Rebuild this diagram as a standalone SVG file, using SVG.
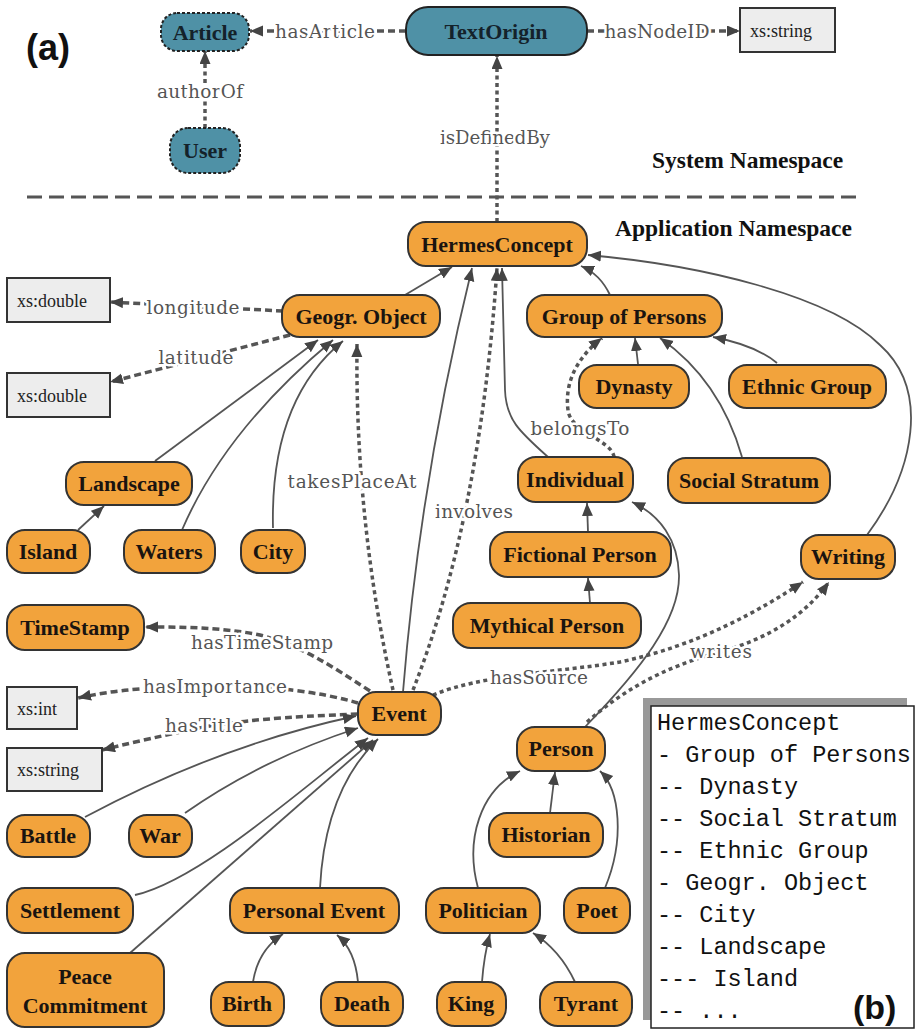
<svg xmlns="http://www.w3.org/2000/svg" width="915" height="1029" viewBox="0 0 915 1029">
<defs>
<marker id="ah" markerUnits="userSpaceOnUse" markerWidth="14" markerHeight="12" refX="13" refY="5.5" orient="auto">
<path d="M0,0 L13,5.5 L0,11 z" fill="#444"/>
</marker>
<style>
.n{fill:#f2a33c;stroke:#333;stroke-width:2}
.t{fill:#4f91a6;stroke:#222;stroke-width:2}
.td{fill:#4f91a6;stroke:#222;stroke-width:2;stroke-dasharray:3 2}
.x{fill:#ededed;stroke:#333;stroke-width:2}
.nl{font-family:"Liberation Serif",serif;font-weight:bold;font-size:22px;fill:#1a1410;text-anchor:middle}
.tl{font-family:"Liberation Serif",serif;font-weight:bold;font-size:22px;fill:#14222a;text-anchor:middle}
.xl{font-family:"Liberation Serif",serif;font-size:18px;fill:#222}
.el{font-family:"DejaVu Serif",serif;font-size:18.5px;fill:#555;text-anchor:middle;stroke:#fff;stroke-width:5;paint-order:stroke;stroke-linejoin:round}
.s{fill:none;stroke:#555;stroke-width:1.8}
.d{fill:none;stroke:#555;stroke-width:3.5;stroke-dasharray:7 4}
.o{fill:none;stroke:#555;stroke-width:3.5;stroke-dasharray:4 3.5}
.ns{font-family:"Liberation Serif",serif;font-weight:bold;font-size:23.5px;fill:#111}
.lg{font-family:"Liberation Mono",monospace;font-size:23.5px;fill:#111}
.big{font-family:"Liberation Sans",sans-serif;font-weight:bold;font-size:36px;fill:#111}
</style>
</defs>
<rect width="915" height="1029" fill="#fff"/>

<text class="big" x="26" y="60">(a)</text>
<line x1="27" y1="197" x2="863" y2="197" stroke="#555" stroke-width="3" stroke-dasharray="15 7"/>
<text class="ns" x="652" y="168">System Namespace</text>
<text class="ns" x="615" y="236">Application Namespace</text>

<g id="connectors">
<path class="d" d="M406,31 L250,31" marker-end="url(#ah)"/>
<path class="d" d="M587,31 L740,31" marker-end="url(#ah)"/>
<path class="o" d="M205,128 L205,51" marker-end="url(#ah)"/>
<path class="o" d="M497,222 L497,56" marker-end="url(#ah)"/>
<path class="s" d="M405,295 L452,267" marker-end="url(#ah)"/>
<path class="s" d="M610,295 Q600,274 581,266" marker-end="url(#ah)"/>
<path class="s" d="M867,535 C915,470 930,390 880,345 C830,295 700,265 588,255" marker-end="url(#ah)"/>
<path class="s" d="M548,457 C520,432 506,420 505,390 L502,268" marker-end="url(#ah)"/>
<path class="s" d="M403,692 Q420,480 472,268" marker-end="url(#ah)"/>
<path class="o" d="M393,690 Q355,520 357,344" marker-end="url(#ah)"/>
<path class="o" d="M413,690 Q480,520 497,268" marker-end="url(#ah)"/>
<path class="s" d="M155,461 L318,340" marker-end="url(#ah)"/>
<path class="s" d="M182,530 Q225,430 333,340" marker-end="url(#ah)"/>
<path class="s" d="M273,528 Q270,400 343,341" marker-end="url(#ah)"/>
<path class="s" d="M78,530 L104,506" marker-end="url(#ah)"/>
<path class="d" d="M283,311 L110,302" marker-end="url(#ah)"/>
<path class="d" d="M290,335 L110,382" marker-end="url(#ah)"/>
<path class="s" d="M638,364 L635,338" marker-end="url(#ah)"/>
<path class="s" d="M742,457 Q720,380 660,338" marker-end="url(#ah)"/>
<path class="s" d="M777,363 Q755,345 713,337" marker-end="url(#ah)"/>
<path class="o" d="M614,457 C612,440 570,432 568,410 C564,380 580,355 602,338" marker-end="url(#ah)"/>
<path class="s" d="M588,532 L587,503" marker-end="url(#ah)"/>
<path class="s" d="M590,603 L588,578" marker-end="url(#ah)"/>
<path class="s" d="M585,727 C640,670 680,620 679,575 C678,540 660,515 632,502" marker-end="url(#ah)"/>
<path class="o" d="M433,695 C480,675 560,672 620,662 C700,645 760,610 803,582" marker-end="url(#ah)"/>
<path class="o" d="M587,722 C620,693 660,668 720,652 C770,638 805,615 829,582" marker-end="url(#ah)"/>
<path class="d" d="M370,691 C330,665 300,645 260,635 C220,627 180,627 145,627" marker-end="url(#ah)"/>
<path class="d" d="M358,703 Q300,686 215,686 Q130,686 78,698" marker-end="url(#ah)"/>
<path class="d" d="M358,714 Q250,718 205,727 Q150,738 102,750" marker-end="url(#ah)"/>
<path class="s" d="M85,817 Q220,745 356,716" marker-end="url(#ah)"/>
<path class="s" d="M185,813 Q260,760 358,728" marker-end="url(#ah)"/>
<path class="s" d="M135,895 C200,880 300,790 368,738" marker-end="url(#ah)"/>
<path class="s" d="M130,953 L373,740" marker-end="url(#ah)"/>
<path class="s" d="M320,888 Q325,790 378,739" marker-end="url(#ah)"/>
<path class="s" d="M253,982 Q258,950 283,934" marker-end="url(#ah)"/>
<path class="s" d="M358,982 Q355,950 337,935" marker-end="url(#ah)"/>
<path class="s" d="M550,813 L555,772" marker-end="url(#ah)"/>
<path class="s" d="M478,888 C465,840 480,790 520,771" marker-end="url(#ah)"/>
<path class="s" d="M605,888 C625,840 620,790 600,771" marker-end="url(#ah)"/>
<path class="s" d="M482,982 Q484,955 490,934" marker-end="url(#ah)"/>
<path class="s" d="M575,982 Q560,950 533,933" marker-end="url(#ah)"/>
<text class="el" x="325" y="38" textLength="100" lengthAdjust="spacing">hasArticle</text>
<text class="el" x="657" y="38" textLength="105" lengthAdjust="spacing">hasNodeID</text>
<text class="el" x="200" y="98" textLength="86" lengthAdjust="spacing">authorOf</text>
<text class="el" x="495" y="144" textLength="110" lengthAdjust="spacing">isDefinedBy</text>
<text class="el" x="193" y="314" textLength="93" lengthAdjust="spacing">longitude</text>
<text class="el" x="196" y="364" textLength="75" lengthAdjust="spacing">latitude</text>
<text class="el" x="352" y="488" textLength="129" lengthAdjust="spacing">takesPlaceAt</text>
<text class="el" x="474" y="518" textLength="78" lengthAdjust="spacing">involves</text>
<text class="el" x="580" y="435" textLength="99" lengthAdjust="spacing">belongsTo</text>
<text class="el" x="262" y="649" textLength="142" lengthAdjust="spacing">hasTimeStamp</text>
<text class="el" x="215" y="693" textLength="144" lengthAdjust="spacing">hasImportance</text>
<text class="el" x="204" y="732" textLength="78" lengthAdjust="spacing">hasTitle</text>
<text class="el" x="539" y="684" textLength="98" lengthAdjust="spacing">hasSource</text>
<text class="el" x="721" y="658" textLength="62" lengthAdjust="spacing">writes</text>
</g>

<g id="Article"><rect class="td" x="161" y="13" width="88" height="38" rx="16"/><text class="tl" x="205" y="40">Article</text></g>
<g id="User"><rect class="td" x="170" y="128" width="70" height="45" rx="18"/><text class="tl" x="205" y="158">User</text></g>
<g id="TextOrigin"><rect class="t" x="406" y="7" width="181" height="48" rx="22"/><text class="tl" x="496" y="39">TextOrigin</text></g>
<g id="xsNodeID"><rect class="x" x="740" y="8" width="95" height="44"/><text class="xl" x="750" y="37">xs:string</text></g>

<g id="HermesConcept"><rect class="n" x="408" y="222" width="179" height="44" rx="18"/><text class="nl" x="497" y="252">HermesConcept</text></g>
<g id="GeogrObject"><rect class="n" x="282" y="295" width="158" height="42" rx="18"/><text class="nl" x="361" y="324">Geogr. Object</text></g>
<g id="GroupOfPersons"><rect class="n" x="527" y="295" width="195" height="42" rx="18"/><text class="nl" x="624" y="324">Group of Persons</text></g>
<g id="Dynasty"><rect class="n" x="579" y="365" width="110" height="43" rx="18"/><text class="nl" x="634" y="394">Dynasty</text></g>
<g id="EthnicGroup"><rect class="n" x="729" y="365" width="157" height="43" rx="18"/><text class="nl" x="807" y="394">Ethnic Group</text></g>
<g id="Individual"><rect class="n" x="518" y="457" width="115" height="45" rx="18"/><text class="nl" x="575" y="487">Individual</text></g>
<g id="SocialStratum"><rect class="n" x="668" y="458" width="162" height="45" rx="18"/><text class="nl" x="749" y="488">Social Stratum</text></g>
<g id="FictionalPerson"><rect class="n" x="490" y="532" width="181" height="45" rx="18"/><text class="nl" x="580" y="562">Fictional Person</text></g>
<g id="Writing"><rect class="n" x="801" y="535" width="94" height="44" rx="18"/><text class="nl" x="848" y="564">Writing</text></g>
<g id="xsDouble1"><rect class="x" x="7" y="278" width="103" height="44"/><text class="xl" x="17" y="307">xs:double</text></g>
<g id="xsDouble2"><rect class="x" x="7" y="373" width="103" height="44"/><text class="xl" x="17" y="402">xs:double</text></g>
<g id="Landscape"><rect class="n" x="66" y="462" width="126" height="43" rx="18"/><text class="nl" x="129" y="491">Landscape</text></g>
<g id="Island"><rect class="n" x="7" y="530" width="83" height="43" rx="18"/><text class="nl" x="48" y="559">Island</text></g>
<g id="Waters"><rect class="n" x="124" y="530" width="91" height="43" rx="18"/><text class="nl" x="169" y="559">Waters</text></g>
<g id="City"><rect class="n" x="241" y="530" width="64" height="43" rx="18"/><text class="nl" x="273" y="559">City</text></g>
<g id="TimeStamp"><rect class="n" x="7" y="605" width="137" height="45" rx="18"/><text class="nl" x="75" y="635">TimeStamp</text></g>
<g id="xsInt"><rect class="x" x="7" y="687" width="70" height="42"/><text class="xl" x="17" y="715">xs:int</text></g>
<g id="xsString2"><rect class="x" x="7" y="748" width="95" height="43"/><text class="xl" x="17" y="776">xs:string</text></g>
<g id="Event"><rect class="n" x="358" y="692" width="83" height="43" rx="18"/><text class="nl" x="399" y="721">Event</text></g>
<g id="MythicalPerson"><rect class="n" x="453" y="603" width="188" height="45" rx="18"/><text class="nl" x="547" y="633">Mythical Person</text></g>
<g id="Person"><rect class="n" x="517" y="727" width="88" height="44" rx="18"/><text class="nl" x="561" y="756">Person</text></g>
<g id="Battle"><rect class="n" x="7" y="815" width="83" height="42" rx="18"/><text class="nl" x="48" y="843">Battle</text></g>
<g id="War"><rect class="n" x="129" y="815" width="63" height="42" rx="18"/><text class="nl" x="160" y="843">War</text></g>
<g id="Historian"><rect class="n" x="489" y="813" width="114" height="44" rx="18"/><text class="nl" x="546" y="842">Historian</text></g>
<g id="Settlement"><rect class="n" x="7" y="888" width="126" height="45" rx="18"/><text class="nl" x="70" y="918">Settlement</text></g>
<g id="PersonalEvent"><rect class="n" x="230" y="888" width="169" height="45" rx="18"/><text class="nl" x="314" y="918">Personal Event</text></g>
<g id="Politician"><rect class="n" x="426" y="888" width="114" height="45" rx="18"/><text class="nl" x="483" y="918">Politician</text></g>
<g id="Poet"><rect class="n" x="564" y="888" width="66" height="45" rx="18"/><text class="nl" x="597" y="918">Poet</text></g>
<g id="PeaceCommitment"><rect class="n" x="7" y="953" width="157" height="74" rx="18"/><text class="nl" x="85" y="984">Peace</text><text class="nl" x="85" y="1013">Commitment</text></g>
<g id="Birth"><rect class="n" x="211" y="982" width="73" height="44" rx="18"/><text class="nl" x="247" y="1011">Birth</text></g>
<g id="Death"><rect class="n" x="321" y="982" width="82" height="44" rx="18"/><text class="nl" x="362" y="1011">Death</text></g>
<g id="King"><rect class="n" x="437" y="982" width="69" height="44" rx="18"/><text class="nl" x="471" y="1011">King</text></g>
<g id="Tyrant"><rect class="n" x="540" y="982" width="92" height="44" rx="18"/><text class="nl" x="586" y="1011">Tyrant</text></g>

<g id="legend">
<rect x="643" y="698" width="264" height="322" fill="#999"/>
<rect x="651" y="706" width="263" height="322" fill="#fff" stroke="#222" stroke-width="1.5"/>
<text class="lg" x="657" y="730">HermesConcept</text>
<text class="lg" x="657" y="762" xml:space="preserve">- Group of Persons</text>
<text class="lg" x="657" y="794" xml:space="preserve">-- Dynasty</text>
<text class="lg" x="657" y="826" xml:space="preserve">-- Social Stratum</text>
<text class="lg" x="657" y="858" xml:space="preserve">-- Ethnic Group</text>
<text class="lg" x="657" y="890" xml:space="preserve">- Geogr. Object</text>
<text class="lg" x="657" y="922" xml:space="preserve">-- City</text>
<text class="lg" x="657" y="954" xml:space="preserve">-- Landscape</text>
<text class="lg" x="657" y="986" xml:space="preserve">--- Island</text>
<text class="lg" x="657" y="1018" xml:space="preserve">-- ...</text>
<text class="big" x="853" y="1019" style="font-size:34px">(b)</text>
</g>
</svg>
